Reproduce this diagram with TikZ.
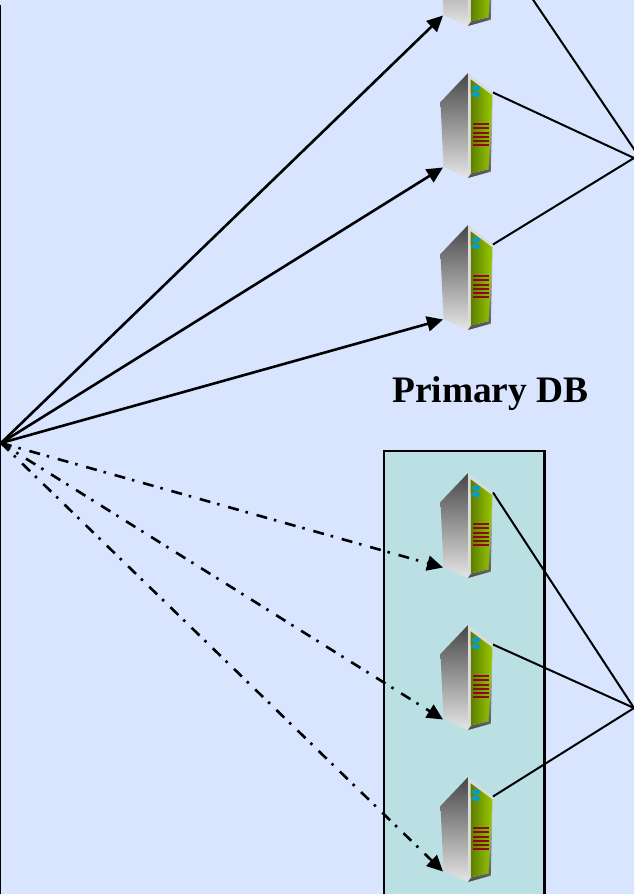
\documentclass[tikz,border=0pt]{standalone}
\usepackage{fontspec}
\setmainfont{Liberation Serif}
\usetikzlibrary{arrows.meta}
\definecolor{pagebg}{HTML}{D9E4FF}
\definecolor{boxbg}{HTML}{BBE0E3}
\definecolor{srvgreen}{HTML}{96C800}
\definecolor{srvdark}{HTML}{5F7F00}
\definecolor{srvred}{HTML}{8B0A14}
\definecolor{srvteal}{HTML}{109CB0}
\tikzset{
  x=1pt,y=-1pt,
  link/.style={line width=2pt,black},
  arrowlink/.style={line width=2.6pt,-{Triangle[length=16pt,width=15pt]}},
  dashlink/.style={line width=2.6pt,dash pattern=on 11pt off 7pt on 2.5pt off 9pt,-{Triangle[length=16pt,width=15pt]}},
  server/.pic={
    \shade[top color=black!72,bottom color=black!10]
      (0,0) -- (-27.5,29) -- (-24.5,94) -- (0,105) -- cycle;
    \fill[black!14] (0,0) -- (25,19.5) -- (22.7,98.7) -- (0,105) -- cycle;
    \shade[top color=black!60,bottom color=black!72] (3,100.5) -- (20.5,96) -- (22.7,98.7) -- (0,105) -- cycle;
    \shade[top color=black!12,bottom color=black!65] (23.5,21) -- (25,19.5) -- (22.7,98.7) -- (20.5,96) -- cycle;
    \shade[left color=srvdark,right color=srvgreen] (2.7,6.3) -- (24.5,22.5) -- (20.5,96) -- (3,100.5) -- cycle;
    \fill[srvteal] (8,15) ellipse[x radius=4.3pt,y radius=3pt];
    \fill[srvteal] (8,21.5) ellipse[x radius=4.3pt,y radius=3pt];
    \foreach \yy in {51,54.7,59.7,63.7,67.7,71.7}{
      \fill[srvred] (4.7,\yy-.9) rectangle (21,\yy+.9);
    }
    \coordinate (-in) at (-25,94.5);
    \coordinate (-out) at (25,19.5);
  }
}
\begin{document}
\begin{tikzpicture}
\useasboundingbox (0,0) rectangle (634,894);
\fill[pagebg] (0,0) rectangle (634,894);
\fill[black] (0,5) rectangle (1.3,894);
\fill[boxbg] (384,451) rectangle (544.5,900);
\draw[line width=2.6pt] (384,900) -- (384,451) -- (544.5,451) -- (544.5,900);
\coordinate (source) at (1,443);
\coordinate (hubA) at (634,158);
\coordinate (hubAtop) at (640,158);
\coordinate (hubB) at (634,708);
\pic (s1) at (468,-79) {server};
\pic (s2) at (468,73) {server};
\pic (s3) at (468,225) {server};
\pic (s4) at (468,473) {server};
\pic (s5) at (468,625) {server};
\pic (s6) at (468,777) {server};
\foreach \n in {s1,s2,s3}{
  \draw[arrowlink] (source) -- (\n-in);
}
\draw[link] (s1-out) -- (hubAtop);
\draw[link] (s2-out) -- (hubA);
\draw[link] (s3-out) -- (hubA);
\foreach \n in {s4,s5,s6}{
  \draw[dashlink] (source) -- (\n-in);
  \draw[link] (\n-out) -- (hubB);
}
\node[font=\bfseries,text=black,inner sep=0pt,anchor=base] (primarydb) at (490.3,402) {\fontsize{37.4pt}{40pt}\selectfont Primary DB};
\end{tikzpicture}
\end{document}
